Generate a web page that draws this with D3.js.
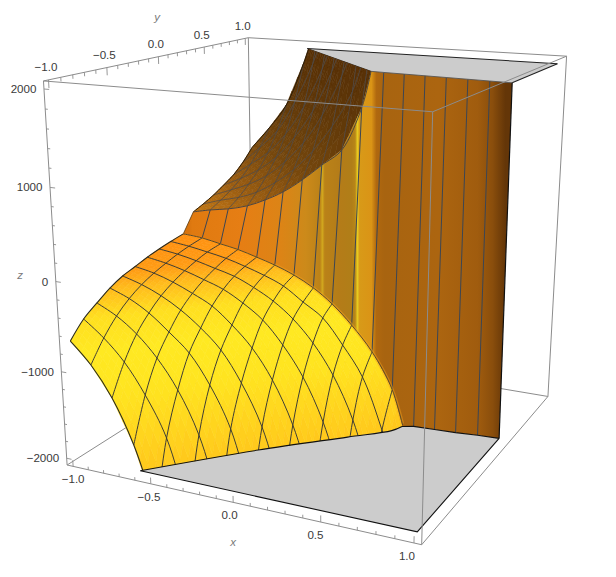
<!DOCTYPE html>
<html><head><meta charset="utf-8"><style>html,body{margin:0;background:#fff}svg{display:block}text{font-family:"Liberation Sans",Arial,sans-serif}</style></head>
<body><script src="https://cdn.jsdelivr.net/npm/d3@7"></script>
<script>
// ---- data ----
const gridX = d3.range(17).map(i => -1 + i * 0.125);
const gridY = d3.range(17).map(j => -1 + j * 0.125);
// front sheet: z at (gridX[i], gridY[j]); last entry of each row sits on the jump (y = domeRimY[i]).
// values below -2000 lie outside the plot range and are estimates.
const domeZ = [
 [-668,-499,-392,-293,-223,-180,-135,-100,-72,-47],
 [-897,-676,-505,-380,-290,-225,-175,-132,-100,-73],
 [-1227,-908,-672,-510,-385,-298,-232,-180,-140,-116],
 [-1717,-1241,-907,-691,-515,-395,-305,-240,-185,-150],
 [-2450,-1689,-1231,-893,-686,-507,-385,-300,-250,-213],
 [-3300,-2500,-1707,-1221,-902,-692,-511,-400,-325,-272],
 [null,-3300,-2500,-1688,-1244,-922,-674,-526,-420,-360],
 [null,null,-3300,-2500,-1716,-1256,-929,-702,-576,-481],
 [null,null,null,-3300,-2500,-1744,-1266,-948,-730,-634],
 [null,null,null,null,-3300,-2500,-1759,-1289,-1015,-854],
 [null,null,null,null,null,-3300,-2500,-1785,-1358,-1145],
 [null,null,null,null,null,null,-3300,-2550,-1958,-1571],
 [null,null,null,null,null,null,null,-3300,-2700,-2400]];
const domeRimY = [.14,.15,.15,.14,.14,.13,.13,.13,.12,.12,.13,.14,.14];
// back sheet: first entry of each row sits on the jump (y = lobeRimY[i]), then gridY[11..16]
const lobeZ = [
 [169,216,275,350,430,548,697],
 [224,290,365,460,590,760,965],
 [264,350,460,590,760,990,1277],
 [323,440,590,770,1010,1370,1819],
 [424,580,780,1030,1360,1850,2500],
 [549,760,1030,1370,1830,2500,3300],
 [715,1000,1380,1850,2500,3300,null],
 [910,1310,1850,2500,3300,null,null],
 [1104,1720,2500,3300,null,null,null],
 [1600,2500,3300,null,null,null,null],
 [2500,3300,null,null,null,null,null]];
const lobeRimY = [.26,.25,.25,.26,.25,.24,.24,.24,.24,.23,.24];
// jump line on the clip planes
const wallTopX = [.17,.25,.375,.5,.625,.75,.875,1];
const wallTopY = [.25,.24,.23,.22,.21,.20,.19,.18];
const wallBaseX = [.44,.5,.625,.75,.875,1];
const wallBaseY = [.14,.17,.18,.19,.21,.22];
// where the sheets leave the plot range
const floorEdgeX = [-.59,-.15,.22,.41,.44];
const floorEdgeY = [-1,-.50,-.13,.06,.14];
const ceilingEdgeX = [-.6,.17];
const ceilingEdgeY = [1,.25];
// tone of the wall along x
const wallToneX = [-1,-.975,-.665,-.416,-.26,-.17,-.155,-.14,-.043,.03,.052,.066,.08,.155,.186,.236,.578,.826,.919,1];
const wallTone = ["#D8740E","#E07A10","#E67E14","#DC8416","#CC8A1A","#BC8218","#D2A81E","#BA8218","#B47C18","#B07E18","#B88618","#E8CC20","#D89A18","#DA9416","#B0680F","#A86410","#AC6510","#A05C0E","#8A4E0C","#643608"];
const domeToneZ = [-2000,-1700,-1200,-800,-500,-300,-200,0];
const domeTone = ["#FFC81C","#FFD21E","#FFE420","#FFE922","#FFDF20","#FFBB1C","#FF9C14","#FF8C10"];
const lobeToneZ = [150,400,800,1400,2000];
const lobeTone = ["#C47814","#9A5C10","#74460C","#603808","#583006"];
const xTicks = [-1,-.5,0,.5,1], yTicks = [-1,-.5,0,.5,1], zTicks = [-2000,-1000,0,1000,2000];
const xTickLabels = ["\u22121.0","\u22120.5","0.0","0.5","1.0"];
const yTickLabels = ["\u22121.0","\u22120.5","0.0","0.5","1.0"];
const zTickLabels = ["\u22122000","\u22121000","0","1000","2000"];

// ---- camera ----
const W=616,H=577, xMax=1.04,yMax=1.04,zMax=2080;
const sx=d3.scaleLinear().domain([-xMax,xMax]).range([-1,1]);
const sy=d3.scaleLinear().domain([-yMax,yMax]).range([-1,1]);
const sz=d3.scaleLinear().domain([-zMax,zMax]).range([-1,1]);
const cam=[148.53382,122.17387,-13.34512,322.85293,7.26391,-14.61876,-190.79401,255.67842,-0.05807,0.12390,-0.04177];
function P(x,y,z){const s=sx(x),t=sy(y),w=sz(z),d=cam[8]*s+cam[9]*t+cam[10]*w+1;
 return [(cam[0]*s+cam[1]*t+cam[2]*w+cam[3])/d,(cam[4]*s+cam[5]*t+cam[6]*w+cam[7])/d];}

const svg=d3.select("body").append("svg").attr("width",W).attr("height",H).attr("viewBox",`0 0 ${W} ${H}`);
const defs=svg.append("defs");
const floorPts=floorEdgeX.map((x,k)=>P(x,floorEdgeY[k],-2000));
const ceilPts=ceilingEdgeX.map((x,k)=>P(x,ceilingEdgeY[k],2000));
defs.append("clipPath").attr("id","domeClip").append("polygon").attr("points",
 [[0,0],[W,0],...floorPts.slice().reverse(),[0,floorPts[0][1]]].map(p=>p.join(",")).join(" "));
defs.append("clipPath").attr("id","lobeClip").append("polygon").attr("points",
 [[ceilPts[0][0],0],ceilPts[0],ceilPts[1],[W,ceilPts[1][1]],[W,H],[0,H],[0,0]].map(p=>p.join(",")).join(" "));
const grad=defs.append("linearGradient").attr("id","wallGrad").attr("gradientUnits","userSpaceOnUse")
 .attr("x1",P(-1,.2,0)[0]).attr("x2",P(1,.2,0)[0]).attr("y1",0).attr("y2",0);
const off=d3.scaleLinear().domain([-1,1]).range([0,1]);
wallToneX.forEach((x,k)=>grad.append("stop").attr("offset",off(x)).attr("stop-color",wallTone[k]));

const curve=d3.line().curve(d3.curveCatmullRom.alpha(.5));
const poly=d3.line();
const boxLine="#8c8c8c";
function seg(g,a,b,c=boxLine,w=1){const p=P(...a),q=P(...b);g.append("line").attr("x1",p[0]).attr("y1",p[1]).attr("x2",q[0]).attr("y2",q[1]).attr("stroke",c).attr("stroke-width",w);}

// hidden box edges
const back=svg.append("g");
seg(back,[-xMax,yMax,zMax],[-xMax,yMax,-zMax]);
seg(back,[-xMax,yMax,-zMax],[-xMax,-yMax,-zMax]);
seg(back,[-xMax,yMax,-zMax],[xMax,yMax,-zMax]);

// ceiling cut
const ceilOutline=[[ceilingEdgeX[0],ceilingEdgeY[0]],[ceilingEdgeX[1],ceilingEdgeY[1]],...wallTopX.slice(1).map((x,k)=>[x,wallTopY[k+1]]),[1,1]];
svg.append("path").attr("d",poly(ceilOutline.map(([x,y])=>P(x,y,2000)))+"Z").attr("fill","#cccccc").attr("stroke","none");
svg.append("path").attr("d",poly([[1,1],[ceilingEdgeX[0],ceilingEdgeY[0]]].map(([x,y])=>P(x,y,2000)))).attr("stroke","#222").attr("stroke-width",1.1).attr("fill","none");
svg.append("path").attr("d",poly([[1,1],[1,wallTopY[7]]].map(([x,y])=>P(x,y,2000)))).attr("stroke","#222").attr("stroke-width",1.1).attr("fill","none");
svg.append("path").attr("d",poly([[ceilingEdgeX[0],ceilingEdgeY[0]],[ceilingEdgeX[1],ceilingEdgeY[1]]].map(([x,y])=>P(x,y,2000)))).attr("stroke","#333").attr("stroke-width",1).attr("fill","none");

// generic sheet painter
function paint(g,xs,rowY,Z,tone,n){
 for(let i=0;i<Z.length-1;i++)for(let j=0;j<Z[0].length-1;j++){
  const c=[Z[i][j],Z[i+1][j],Z[i][j+1],Z[i+1][j+1]];
  if(c.some(v=>v==null))continue;
  if(Math.max(...c)<-2600||Math.min(...c)>2600)continue;
  const y00=rowY(i,j),y10=rowY(i+1,j),y01=rowY(i,j+1),y11=rowY(i+1,j+1);
  const at=(a,b)=>{const x=xs[i]+(xs[i+1]-xs[i])*a;
   const y=(y00*(1-a)+y10*a)*(1-b)+(y01*(1-a)+y11*a)*b;
   const z=(c[0]*(1-a)+c[1]*a)*(1-b)+(c[2]*(1-a)+c[3]*a)*b;return [x,y,z];};
  for(let a=0;a<n;a++)for(let b=0;b<n;b++){
   const q=[at(a/n,b/n),at((a+1)/n,b/n),at((a+1)/n,(b+1)/n),at(a/n,(b+1)/n)];
   const col=tone(at((a+.5)/n,(b+.5)/n)[2]);
   g.append("path").attr("d",poly(q.map(v=>P(...v)))+"Z").attr("fill",col).attr("stroke",col).attr("stroke-width",.6);
  }
 }
}

// back sheet
const lobeY=(i,j)=>j===0?lobeRimY[i]:gridY[10+j];
const lobe=svg.append("g").attr("clip-path","url(#lobeClip)");
paint(lobe,gridX,lobeY,lobeZ,d3.scaleLinear().domain(lobeToneZ).range(lobeTone).clamp(true),3);
for(let i=1;i<10;i++){const pts=lobeZ[i].map((z,j)=>z==null?null:P(gridX[i],lobeY(i,j),z)).filter(Boolean);
 lobe.append("path").attr("d",curve(pts)).attr("fill","none").attr("stroke","#4f4a48").attr("stroke-width",.8);}
for(let j=1;j<6;j++){const pts=lobeZ.map((r,i)=>r[j]==null?null:P(gridX[i],lobeY(i,j),r[j])).filter(Boolean);
 lobe.append("path").attr("d",curve(pts)).attr("fill","none").attr("stroke","#4f4a48").attr("stroke-width",.8);}
lobe.append("path").attr("d",curve(lobeZ.map((r,i)=>P(gridX[0+i],1,r[6]==null?3300:r[6])).slice(0,5))).attr("fill","none").attr("stroke","#2a1c08").attr("stroke-width",1);
lobe.append("path").attr("d",curve(lobeZ[0].map((z,j)=>P(-1,lobeY(0,j),z)))).attr("fill","none").attr("stroke","#2a1c08").attr("stroke-width",1);

// wall
const wallUpper=[...lobeZ.slice(0,10).map((r,i)=>[gridX[i],lobeRimY[i],r[0]]),...wallTopX.map((x,k)=>[x,wallTopY[k],2000])];
const wallLower=[...domeZ.slice(0,12).map((r,i)=>[gridX[i],domeRimY[i],r[9]]),...wallBaseX.map((x,k)=>[x,wallBaseY[k],-2000])];
svg.append("path").attr("d",poly([...wallUpper,...wallLower.slice().reverse()].map(v=>P(...v)))+"Z").attr("fill","url(#wallGrad)");
gridX.forEach(x=>{ if(x===-1||x===1)return;
 const up=wallUpper.find(v=>v[0]===x), lo=wallLower.find(v=>v[0]===x);
 svg.append("path").attr("d",poly([P(...lo),P(...up)])).attr("stroke","#3c4654").attr("stroke-width",1).attr("fill","none");});
svg.append("path").attr("d",curve(wallUpper.slice(0,11).map(v=>P(...v)))).attr("fill","none").attr("stroke","#4a4440").attr("stroke-width",1);
svg.append("path").attr("d",poly(wallUpper.slice(10).map(v=>P(...v)))).attr("fill","none").attr("stroke","#555").attr("stroke-width",.9);
svg.append("path").attr("d",poly([wallUpper[0],wallLower[0]].map(v=>P(...v)))).attr("stroke","#5a3a10").attr("stroke-width",.8).attr("fill","none");
svg.append("path").attr("d",poly([wallUpper[wallUpper.length-1],wallLower[wallLower.length-1]].map(v=>P(...v)))).attr("stroke","#111").attr("stroke-width",1.2).attr("fill","none");

// floor cut
const floorRight=wallBaseX.map((x,k)=>[x,wallBaseY[k]]);
const floorOutline=[...floorEdgeX.map((x,k)=>[x,floorEdgeY[k]]),...floorRight.slice(1),[1,-1]];
svg.append("path").attr("d",poly(floorOutline.map(([x,y])=>P(x,y,-2000)))+"Z").attr("fill","#cccccc");
svg.append("path").attr("d",poly(floorRight.map(([x,y])=>P(x,y,-2000)))).attr("fill","none").attr("stroke","#111").attr("stroke-width",1.1);
svg.append("path").attr("d",poly([[floorEdgeX[0],-1],[1,-1],[1,wallBaseY[5]]].map(([x,y])=>P(x,y,-2000)))).attr("fill","none").attr("stroke","#111").attr("stroke-width",1.1);

// front sheet
const domeY=(i,j)=>j===9?domeRimY[i]:gridY[j];
const dome=svg.append("g").attr("clip-path","url(#domeClip)");
paint(dome,gridX,domeY,domeZ,d3.scaleLinear().domain(domeToneZ).range(domeTone).clamp(true),4);
const rimPts=domeZ.map((r,i)=>P(gridX[i],domeRimY[i],r[9]));
dome.append("path").attr("d",curve(rimPts.slice(5))).attr("fill","none").attr("stroke","#F5A21C").attr("stroke-width",3.5).attr("opacity",.45);
for(let i=1;i<12;i++){const pts=domeZ[i].map((z,j)=>z==null?null:P(gridX[i],domeY(i,j),z)).filter(Boolean);
 dome.append("path").attr("d",curve(pts)).attr("fill","none").attr("stroke","#3f3d33").attr("stroke-width",1);}
for(let j=1;j<9;j++){const pts=domeZ.map((r,i)=>r[j]==null?null:P(gridX[i],domeY(i,j),r[j])).filter(Boolean);
 dome.append("path").attr("d",curve(pts)).attr("fill","none").attr("stroke","#3f3d33").attr("stroke-width",1);}
dome.append("path").attr("d",curve(rimPts)).attr("fill","none").attr("stroke","#5a4a28").attr("stroke-width",1);
dome.append("path").attr("d",curve(domeZ[0].map((z,j)=>P(-1,domeY(0,j),z)))).attr("fill","none").attr("stroke","#2a2a20").attr("stroke-width",1.1);
dome.append("path").attr("d",curve(domeZ.slice(0,6).map((r,i)=>P(gridX[i],-1,r[0]==null?-3300:r[0])))).attr("fill","none").attr("stroke","#2a2a20").attr("stroke-width",1.1);
svg.append("path").attr("d",curve(floorPts)).attr("fill","none").attr("stroke","#111").attr("stroke-width",1.1);

// front box edges
const fr=svg.append("g");
[[[-1,-1,1],[1,-1,1]],[[1,-1,1],[1,1,1]],[[-1,-1,1],[-1,1,1]],[[-1,1,1],[1,1,1]],[[1,-1,1],[1,-1,-1]],[[-1,-1,1],[-1,-1,-1]],
 [[-1,-1,-1],[1,-1,-1]],[[1,-1,-1],[1,1,-1]],[[1,1,1],[1,1,-1]]].forEach(([a,b])=>
 seg(fr,[a[0]*xMax,a[1]*yMax,a[2]*zMax],[b[0]*xMax,b[1]*yMax,b[2]*zMax]));

// ticks
const tk=svg.append("g");
d3.range(-10,11).forEach(k=>{const v=k/10,maj=k%5===0;
 seg(tk,[v,-yMax,-zMax],[v,-yMax,-zMax+(maj?72:36)],boxLine,.9);
 seg(tk,[-xMax,v,zMax],[-xMax,v,zMax-(maj?82:41)],boxLine,.9);});
d3.range(-10,11).forEach(k=>{const v=k*200,maj=k%5===0;
 seg(tk,[-xMax,-yMax,v],[-xMax+(maj?.032:.016),-yMax,v],boxLine,.9);});
const tickFont=11.6, txt="#3a3a3a";
xTicks.forEach((v,k)=>{const p=P(v,-yMax,-zMax);tk.append("text").attr("x",p[0]-3.5*(v+1)).attr("y",p[1]+13).attr("dy",".35em").attr("text-anchor","middle").attr("font-size",tickFont).attr("fill",txt).text(xTickLabels[k]);});
yTicks.forEach((v,k)=>{const p=P(-xMax,v,zMax);tk.append("text").attr("x",p[0]-2.5).attr("y",p[1]-12.5).attr("dy",".35em").attr("text-anchor","middle").attr("font-size",tickFont).attr("fill",txt).text(yTickLabels[k]);});
zTicks.forEach((v,k)=>{const p=P(-xMax,-yMax,v);tk.append("text").attr("x",p[0]-7.5).attr("y",p[1]).attr("dy",".35em").attr("text-anchor","end").attr("font-size",tickFont).attr("fill",txt).text(zTickLabels[k]);});
[["x",233,542],["y",157,17],["z",20,275]].forEach(([t,x,y])=>tk.append("text").attr("x",x).attr("y",y).attr("dy",".35em").attr("text-anchor","middle").attr("font-size",11.5).attr("font-style","italic").attr("fill","#7a7a7a").text(t));
</script></body></html>
